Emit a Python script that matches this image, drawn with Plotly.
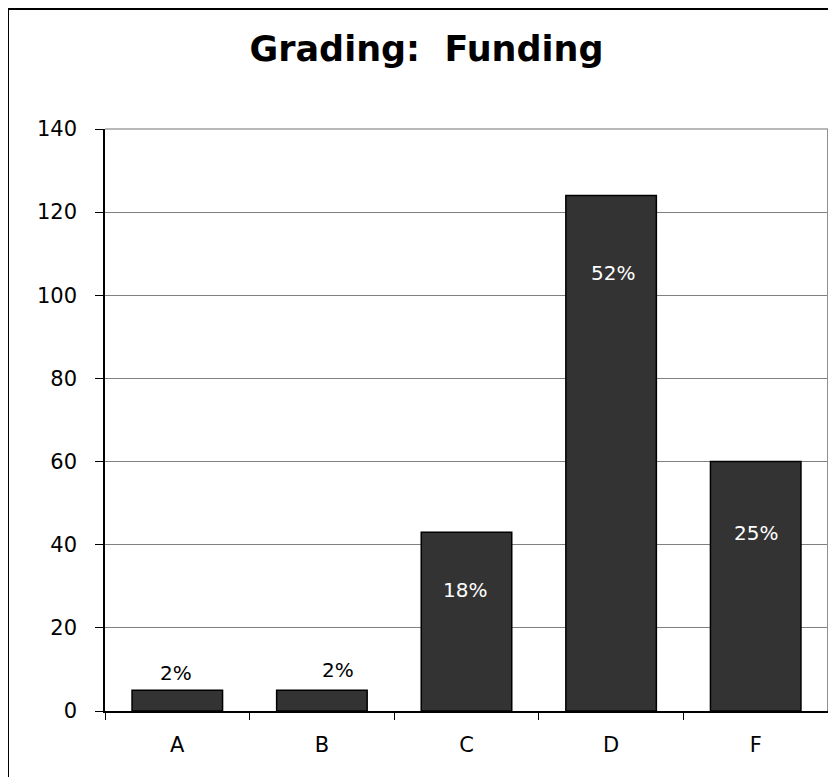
import plotly.graph_objects as go

# ---- data ----
categories = ["A", "B", "C", "D", "F"]
counts = [5, 5, 43, 124, 60]
y_ticks = [0, 20, 40, 60, 80, 100, 120, 140]

total = sum(counts)
pct_labels = [f"{round(v / total * 100)}%" for v in counts]

# ---- label placement (pixel offsets from bar top) ----
label_dx = [-1, 16, -2, 2, 0]
label_dy = [17, 20, -58, -77, -71]
label_inside = [False, False, True, True, True]

# page body has an 8px margin, so the figure is 8px smaller than the window
W, H = 828, 769
ML, MR, MT, MB = 97, 8, 121, 66
PW, PH = W - ML - MR, H - MT - MB

FONT = "DejaVu Sans"

fig = go.Figure()
fig.add_trace(go.Bar(
    x=categories, y=counts,
    marker=dict(color="#333333", line=dict(color="#000000", width=1.5)),
    hoverinfo="x+y",
))

annotations = []
for c, v, t, dx, dy, ins in zip(categories, counts, pct_labels, label_dx, label_dy, label_inside):
    annotations.append(dict(
        x=c, y=v, xref="x", yref="y", text=t, showarrow=False,
        xanchor="center", yanchor="middle", xshift=dx, yshift=dy,
        font=dict(family=FONT, size=20, color="#ffffff" if ins else "#000000"),
    ))


def px_x(px):
    return (px - ML) / PW


def px_y(py):
    return (H - MB - py) / PH


shapes = [
    # outer chart border (clipped at right/bottom)
    dict(type="rect", xref="paper", yref="paper",
         x0=px_x(0), x1=px_x(900), y0=px_y(900), y1=px_y(1),
         line=dict(color="#000000", width=2), fillcolor="rgba(0,0,0,0)", layer="below"),
    # plot area top/right border
    dict(type="line", xref="paper", yref="paper", x0=0, x1=1, y0=1, y1=1,
         line=dict(color="#a0a0a0", width=1.5)),
    dict(type="line", xref="paper", yref="paper", x0=1, x1=1, y0=0, y1=1,
         line=dict(color="#909090", width=2)),
]

fig.update_layout(
    width=W, height=H,
    margin=dict(l=ML, r=MR, t=MT, b=MB, autoexpand=False),
    paper_bgcolor="#ffffff", plot_bgcolor="#ffffff",
    bargap=0.374,
    showlegend=False,
    title=dict(text="Grading:  Funding", x=px_x(418.5), xref="paper", xanchor="center",
               y=(H - 41) / H, yanchor="middle",
               font=dict(family=FONT, size=35, color="#000000", weight="bold")),
    annotations=annotations,
    shapes=shapes,
    xaxis=dict(
        type="category", showgrid=False, tickson="boundaries",
        ticks="outside", ticklen=7, tickcolor="#000000", tickwidth=1,
        showline=True, linecolor="#000000", linewidth=1.5,
        tickfont=dict(family=FONT, size=21, color="#000000"),
        ticklabelstandoff=14,
    ),
    yaxis=dict(
        range=[0, 140], tickvals=y_ticks, ticktext=[str(t) for t in y_ticks],
        showgrid=True, gridcolor="#808080", gridwidth=1,
        zeroline=False,
        ticks="outside", ticklen=8, tickcolor="#000000", tickwidth=1,
        showline=True, linecolor="#000000", linewidth=1.5,
        tickfont=dict(family=FONT, size=21, color="#000000"),
        ticklabelstandoff=14,
    ),
)

fig.write_html("out.html")
